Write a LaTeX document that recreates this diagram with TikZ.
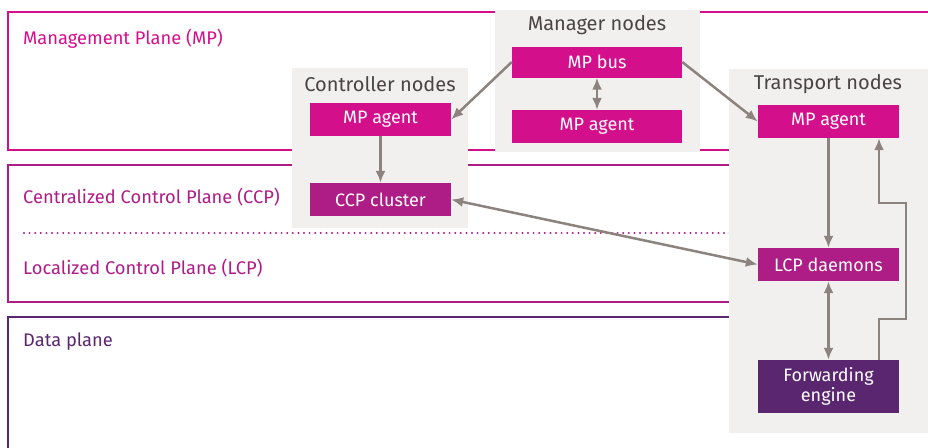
\documentclass[tikz,border=0pt]{standalone}
\usepackage{fontspec}
\setmainfont{Fira Sans}
\usetikzlibrary{
  arrows.meta,
  calc,
  positioning
}
\definecolor{mp pink}{HTML}{D40F8C}
\definecolor{cp purple}{HTML}{AE1C86}
\definecolor{dp purple}{HTML}{5B2670}
\definecolor{panel gray}{HTML}{F2F0EE}
\definecolor{link gray}{HTML}{8C837F}
\definecolor{title gray}{HTML}{4A4443}
\tikzset{
%
  % For the borders of the planes.
  plane/.style={
    line width=2.3pt},
%
  % For the names of the planes.
  plane label/.style={
    anchor=west,
    inner sep=0pt,
    font=\fontsize{18.3}{22}\selectfont},
%
  % For the gray groups of nodes.
  panel/.style={
    fill=panel gray,
    inner sep=0pt},
%
  % For the titles of the groups.
  panel title/.style={
    text=title gray,
    inner sep=0pt,
    font=\fontsize{20}{24}\selectfont},
%
  % For the coloured boxes.
  box/.style={
    text=white,
    inner sep=0pt,
    minimum height=33pt,
    align=center,
    font=\fontsize{18}{20}\selectfont},
%
  % For the links between boxes.
  link/.style={
    link gray,
    line width=2.5pt,
    -{Latex[length=12pt,
            width=10pt]}},
%
  % For the links that go both ways.
  both link/.style={
    link,
    {Latex[length=12pt,
           width=10pt]}-{Latex[length=12pt,
                               width=10pt]}}
}

\begin{document}
\begin{tikzpicture}[x=1pt, y=-1pt]
  \clip (0,0) rectangle (928,447);

  % planes
  \draw[plane, mp pink] (8,12) rectangle (945,150);
  \draw[plane, cp purple] (8,165) rectangle (945,302);
  \draw[plane, dp purple] (8,317) rectangle (945,470);
  \draw[cp purple, line width=2.2pt, line cap=round,
        dash pattern=on 0pt off 5.6pt] (24,233) -- (740,233);

  \node[plane label, text=mp pink] (MPL) at (23,39) {Management Plane (MP)};
  \node[plane label, text=cp purple] (CCPL) at (23,197) {Centralized Control Plane (CCP)};
  \node[plane label, text=cp purple] (LCPL) at (23,268) {Localized Control Plane (LCP)};
  \node[plane label, text=dp purple] (DPL) at (23,342) {Data plane};

  % groups
  \node[panel, minimum width=205pt, minimum height=142pt] (Man) at (597.5,81) {};
  \node[panel, minimum width=176pt, minimum height=160pt] (Ctl) at (380,148) {};
  \node[panel, minimum width=210pt, minimum height=364pt] (Tra) at (834,251) {};

  \node[panel title] (ManT) at (597,25) {Manager nodes};
  \node[panel title] (CtlT) at (380,84) {Controller nodes};
  \node[panel title] (TraT) at (828,84) {Transport nodes};

  % boxes
  \node[box, fill=mp pink, minimum width=170pt, minimum height=31pt] (Bus) at (597,62) {MP bus};
  \node[box, fill=mp pink, minimum width=170pt] (ManA) at (597,126.5) {MP agent};
  \node[box, fill=mp pink, minimum width=141pt] (CtlA) at (380.5,119.5) {MP agent};
  \node[box, fill=cp purple, minimum width=141pt] (CCP) at (380.5,199.5) {CCP cluster};
  \node[box, fill=mp pink, minimum width=141pt] (TraA) at (828.5,121.5) {MP agent};
  \node[box, fill=cp purple, minimum width=141pt] (LCP) at (828.5,264.5) {LCP daemons};
  \node[box, fill=dp purple, minimum width=141pt, minimum height=53pt] (FE) at (828.5,386.5) {Forwarding\\engine};

  \coordinate (low bend) at (906,319);
  \coordinate (high bend) at (906,203);

  % links
  \draw[link] (Bus.west) -- (CtlA.east);
  \draw[link] (Bus.east) -- (TraA.west);
  \draw[both link] (Bus) -- (ManA);
  \draw[link] (CtlA) -- (CCP);
  \draw[both link] (CCP.east) -- (LCP.west);
  \draw[link] (TraA) -- (LCP);
  \draw[both link] (LCP) -- (FE);
  \draw[link] ([xshift=50.5pt]FE.north) |- (low bend) -- (high bend)
    -| ([xshift=50.5pt]TraA.south);
\end{tikzpicture}
\end{document}
